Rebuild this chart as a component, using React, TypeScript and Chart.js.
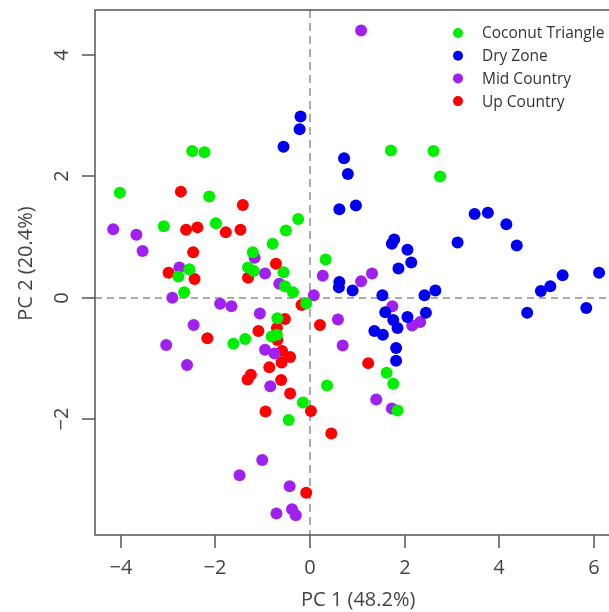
import React, { useEffect, useRef } from "react";
import { Chart, registerables } from "chart.js";

Chart.register(...registerables);

const seriesNames = ["Coconut Triangle", "Dry Zone", "Mid Country", "Up Country"];
const seriesColors = ["#00ee00", "#0000ee", "#a020f0", "#ff0000"];

const coconutX = [-2.49, -2.23, -4.02, -2.13, 1.71, 2.61, 2.75, -3.09, -1.99, -0.25, -0.51, -0.79, -1.21, 0.33, -2.55, -2.78, -1.31, -1.19, -0.56, -0.53, -0.36, -2.66, -0.08, -0.69, -1.62, -1.37, -0.81, -0.70, 0.36, -0.15, -0.45, 1.62, 1.76, 1.85];
const coconutY = [2.42, 2.40, 1.73, 1.67, 2.43, 2.42, 2.00, 1.18, 1.23, 1.30, 1.11, 0.89, 0.75, 0.63, 0.47, 0.35, 0.50, 0.44, 0.42, 0.19, 0.09, 0.09, -0.09, -0.34, -0.76, -0.68, -0.64, -0.61, -1.45, -1.73, -2.02, -1.24, -1.42, -1.86];

const dryX = [-0.20, -0.22, -0.56, 0.72, 0.80, 0.62, 0.97, 3.48, 3.76, 4.15, 3.12, 4.37, 1.78, 1.73, 2.06, 2.14, 1.87, 0.62, 0.61, 0.90, 1.53, 2.42, 2.65, 5.34, 6.11, 5.08, 4.88, 4.59, 5.84, 1.59, 1.76, 1.85, 2.06, 2.45, 1.36, 1.54, 1.82, 1.82];
const dryY = [2.99, 2.78, 2.49, 2.30, 2.04, 1.46, 1.52, 1.38, 1.40, 1.21, 0.91, 0.86, 0.96, 0.89, 0.79, 0.58, 0.48, 0.26, 0.17, 0.12, 0.04, 0.04, 0.12, 0.37, 0.41, 0.19, 0.11, -0.25, -0.17, -0.24, -0.37, -0.50, -0.32, -0.25, -0.55, -0.61, -0.83, -1.04];

const midX = [1.08, -4.16, -3.67, -3.54, -1.17, 0.27, -2.76, -0.95, -0.65, -2.91, 0.08, -1.90, -1.66, -1.06, 0.59, -2.46, -3.04, 0.69, -0.95, -0.75, -2.60, -0.84, -1.01, -1.49, -0.43, -0.38, -0.30, -0.71, 1.31, 1.08, 1.74, 2.16, 2.33, 1.40, 1.73];
const midY = [4.41, 1.13, 1.04, 0.77, 0.66, 0.36, 0.50, 0.40, 0.23, 0.00, 0.04, -0.10, -0.14, -0.26, -0.36, -0.45, -0.78, -0.79, -0.86, -0.92, -1.11, -1.46, -2.68, -2.93, -3.11, -3.49, -3.59, -3.56, 0.40, 0.27, -0.14, -0.46, -0.40, -1.68, -1.83];

const upX = [-2.73, -1.42, -2.62, -2.38, -1.78, -1.47, -2.47, -0.72, -2.99, -2.44, -1.31, -0.18, -0.53, 0.21, -0.70, -1.09, -2.17, -0.69, -0.59, -0.42, -0.60, -0.86, -1.25, -1.32, -0.61, -0.42, 0.02, -0.94, 0.45, -0.08, 1.23];
const upY = [1.75, 1.53, 1.12, 1.16, 1.08, 1.12, 0.75, 0.56, 0.41, 0.31, 0.33, -0.12, -0.35, -0.45, -0.50, -0.55, -0.67, -0.70, -0.88, -0.98, -1.07, -1.15, -1.27, -1.35, -1.36, -1.58, -1.87, -1.88, -2.24, -3.22, -1.08];

const xTicks = [-4, -2, 0, 2, 4, 6];
const yTicks = [-2, 0, 2, 4];
const xTitle = "PC 1 (48.2%)";
const yTitle = "PC 2 (20.4%)";

const seriesX = [coconutX, dryX, midX, upX];
const seriesY = [coconutY, dryY, midY, upY];

const fmt = (v: number) => (v < 0 ? "\u2212" + Math.abs(v) : String(v));

const FONT = "'Open Sans', 'Noto Sans', sans-serif";

const rPlot = {
  id: "rPlot",
  beforeDatasetsDraw(chart: any) {
    const { ctx, chartArea: a, scales } = chart;
    const x = scales.x, y = scales.y;
    ctx.save();
    ctx.beginPath();
    ctx.rect(a.left, a.top, a.right - a.left, a.bottom - a.top);
    ctx.clip();
    ctx.strokeStyle = "#ababab";
    ctx.lineWidth = 2;
    const x0 = Math.round(x.getPixelForValue(0));
    ctx.setLineDash([8, 5]);
    ctx.beginPath();
    ctx.moveTo(x0, a.top);
    ctx.lineTo(x0, a.bottom);
    ctx.stroke();
    const y0 = Math.round(y.getPixelForValue(0));
    ctx.setLineDash([7, 5]);
    ctx.beginPath();
    ctx.moveTo(a.left, y0);
    ctx.lineTo(a.right, y0);
    ctx.stroke();
    ctx.restore();
  },
  afterDraw(chart: any) {
    const { ctx, chartArea: a, scales } = chart;
    const x = scales.x, y = scales.y;
    ctx.save();
    ctx.strokeStyle = "#555555";
    ctx.lineWidth = 1.5;
    ctx.strokeRect(a.left, a.top, a.right - a.left, a.bottom - a.top);
    ctx.fillStyle = "#444444";
    ctx.font = "20px " + FONT;
    ctx.textAlign = "center";
    ctx.textBaseline = "middle";
    // x ticks
    xTicks.forEach((t) => {
      const px = Math.round(x.getPixelForValue(t));
      ctx.beginPath();
      ctx.moveTo(px, a.bottom);
      ctx.lineTo(px, a.bottom + 13);
      ctx.stroke();
      ctx.fillText(fmt(t), px, a.bottom + 33);
    });
    // y ticks
    yTicks.forEach((t) => {
      const py = Math.round(y.getPixelForValue(t));
      ctx.beginPath();
      ctx.moveTo(a.left, py);
      ctx.lineTo(a.left - 13, py);
      ctx.stroke();
      ctx.save();
      ctx.translate(a.left - 33, py);
      ctx.rotate(-Math.PI / 2);
      ctx.fillText(fmt(t), 0, 0);
      ctx.restore();
    });
    // titles
    ctx.fillText(xTitle, (a.left + a.right) / 2 + 2, a.bottom + 65);
    ctx.save();
    ctx.translate(a.left - 69, (a.top + a.bottom) / 2 - 9);
    ctx.rotate(-Math.PI / 2);
    ctx.fillText(yTitle, 0, 0);
    ctx.restore();
    // legend
    ctx.font = "15.5px " + FONT;
    ctx.textAlign = "left";
    seriesNames.forEach((name, i) => {
      const ly = 33 + i * 22.7;
      ctx.fillStyle = seriesColors[i];
      ctx.beginPath();
      ctx.arc(458, ly, 5, 0, Math.PI * 2);
      ctx.fill();
      ctx.fillStyle = "#333333";
      ctx.fillText(name, 482, ly + 1);
    });
    ctx.restore();
  },
};

export default function App() {
  const ref = useRef<HTMLCanvasElement | null>(null);
  useEffect(() => {
    if (!ref.current) return;
    const datasets = seriesNames.map((name, i) => ({
      label: name,
      data: seriesX[i].map((vx, j) => ({ x: vx, y: seriesY[i][j] })),
      backgroundColor: seriesColors[i],
      borderColor: seriesColors[i],
      pointRadius: 6,
      pointBorderWidth: 0,
      pointHoverRadius: 6,
    }));
    const chart = new Chart(ref.current, {
      type: "scatter",
      data: { datasets },
      options: {
        responsive: false,
        animation: false,
        events: [],
        layout: { padding: { left: 95, top: 10, right: 22.5, bottom: 77 } },
        plugins: { legend: { display: false }, tooltip: { enabled: false } },
        scales: {
          x: { type: "linear", min: -4.545, max: 6.5, display: false },
          y: { type: "linear", min: -3.916, max: 4.747, display: false },
        },
      },
      plugins: [rPlot],
    });
    return () => chart.destroy();
  }, []);
  return (
    <div style={{ position: "fixed", left: 0, top: 0, width: 609, height: 612, overflow: "hidden", background: "#ffffff" }}>
      <canvas ref={ref} width={640} height={612} style={{ display: "block" }} />
    </div>
  );
}
